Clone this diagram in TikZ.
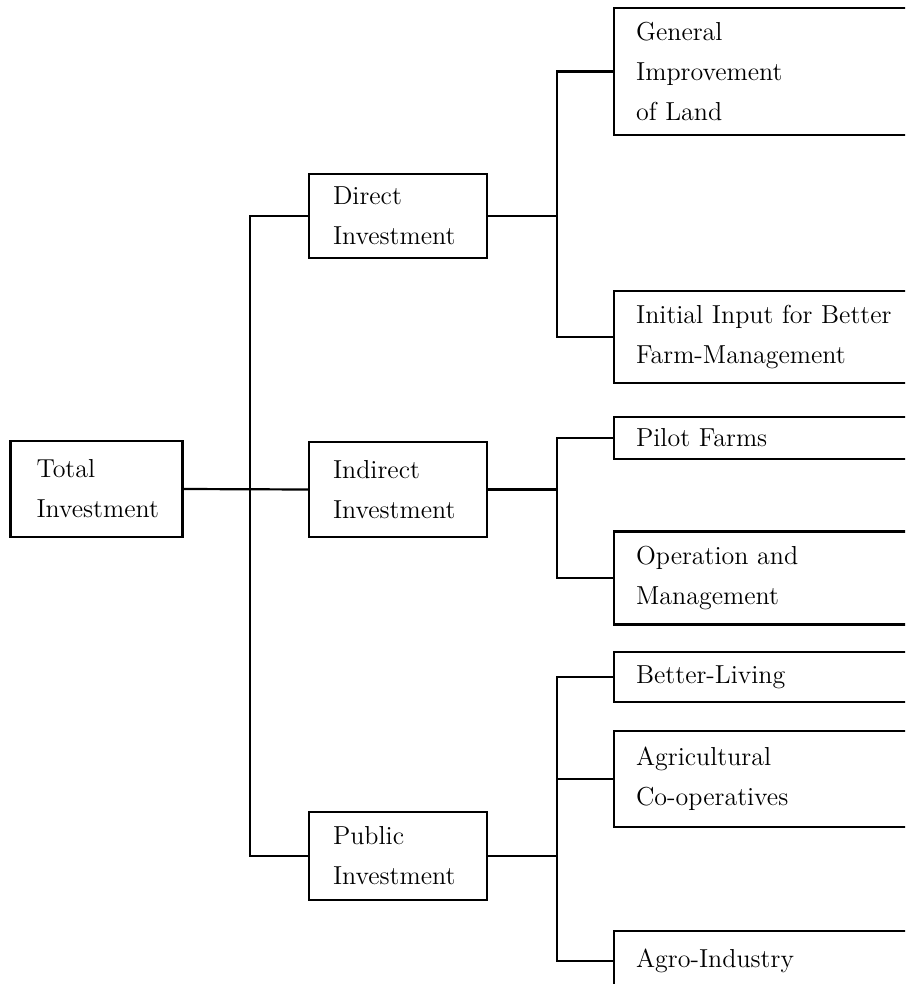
\documentclass[tikz,border=0pt]{standalone}
\usetikzlibrary{positioning}
\hyphenpenalty=10000
\exhyphenpenalty=10000
\tikzset{
  root/.style={rectangle, draw, line width=1.1pt, align=left, inner xsep=13pt, inner ysep=2pt, text width=60pt},
  branch/.style={rectangle, draw, line width=1.1pt, align=left, inner xsep=12pt, inner ysep=2pt, text width=65pt},
  leaf/.style={rectangle, draw, line width=1.1pt, align=left, inner xsep=11pt, inner ysep=2pt, text width=158pt, anchor=west},
  link/.style={line width=1.1pt}
}

\begin{document}
\begin{tikzpicture}[x=0.5pt, y=-0.5pt, font={\fontsize{13}{20}\selectfont}]
  \useasboundingbox (0,0) rectangle (905,984);
  \clip (0,0) rectangle (905,984);

  % root and first level
  \node [root, minimum height=48pt] (total) at (96.5,489) {Total\\Investment};
  \node [branch, minimum height=42pt] (direct) at (398,216) {Direct\\Investment};
  \node [branch, minimum height=47.5pt] (indirect) at (398,489.5) {Indirect\\Investment};
  \node [branch, minimum height=44pt] (public) at (398,856) {Public\\Investment};

  % second level
  \node [leaf, minimum height=63.5pt] (general) at (613,71.5) {General\\Improvement\\of Land};
  \node [leaf, minimum height=46pt] (initial) at (613,337) {Initial Input for Better\\Farm-Management};
  \node [leaf, minimum height=21pt] (pilot) at (613,438) {Pilot Farms};
  \node [leaf, minimum height=46.5pt] (operation) at (613,578) {Operation and\\Management};
  \node [leaf, minimum height=25pt] (better) at (613,677) {Better-Living};
  \node [leaf, minimum height=48pt] (agri) at (613,779) {Agricultural\\Co-operatives};
  \node [leaf, minimum height=30pt] (agro) at (613,961) {Agro-Industry};

  \coordinate (trunk) at (250,0);
  \coordinate (fork) at (557,0);

  % connectors
  \draw [link] (total.east) -- (indirect.west);
  \draw [link] (direct.west) -- (direct -| trunk) -- (public -| trunk) -- (public.west);

  \draw [link] (general.west) -- (general -| fork) -- (initial -| fork) -- (initial.west);
  \draw [link] (direct.east) -- (direct -| fork);

  \draw [link] (pilot.west) -- (pilot -| fork) -- (operation -| fork) -- (operation.west);
  \draw [link] (indirect.east) -- (indirect -| fork);

  \draw [link] (better.west) -- (better -| fork) -- (agro -| fork) -- (agro.west);
  \draw [link] (agri.west) -- (agri -| fork);
  \draw [link] (public.east) -- (public -| fork);
\end{tikzpicture}
\end{document}
